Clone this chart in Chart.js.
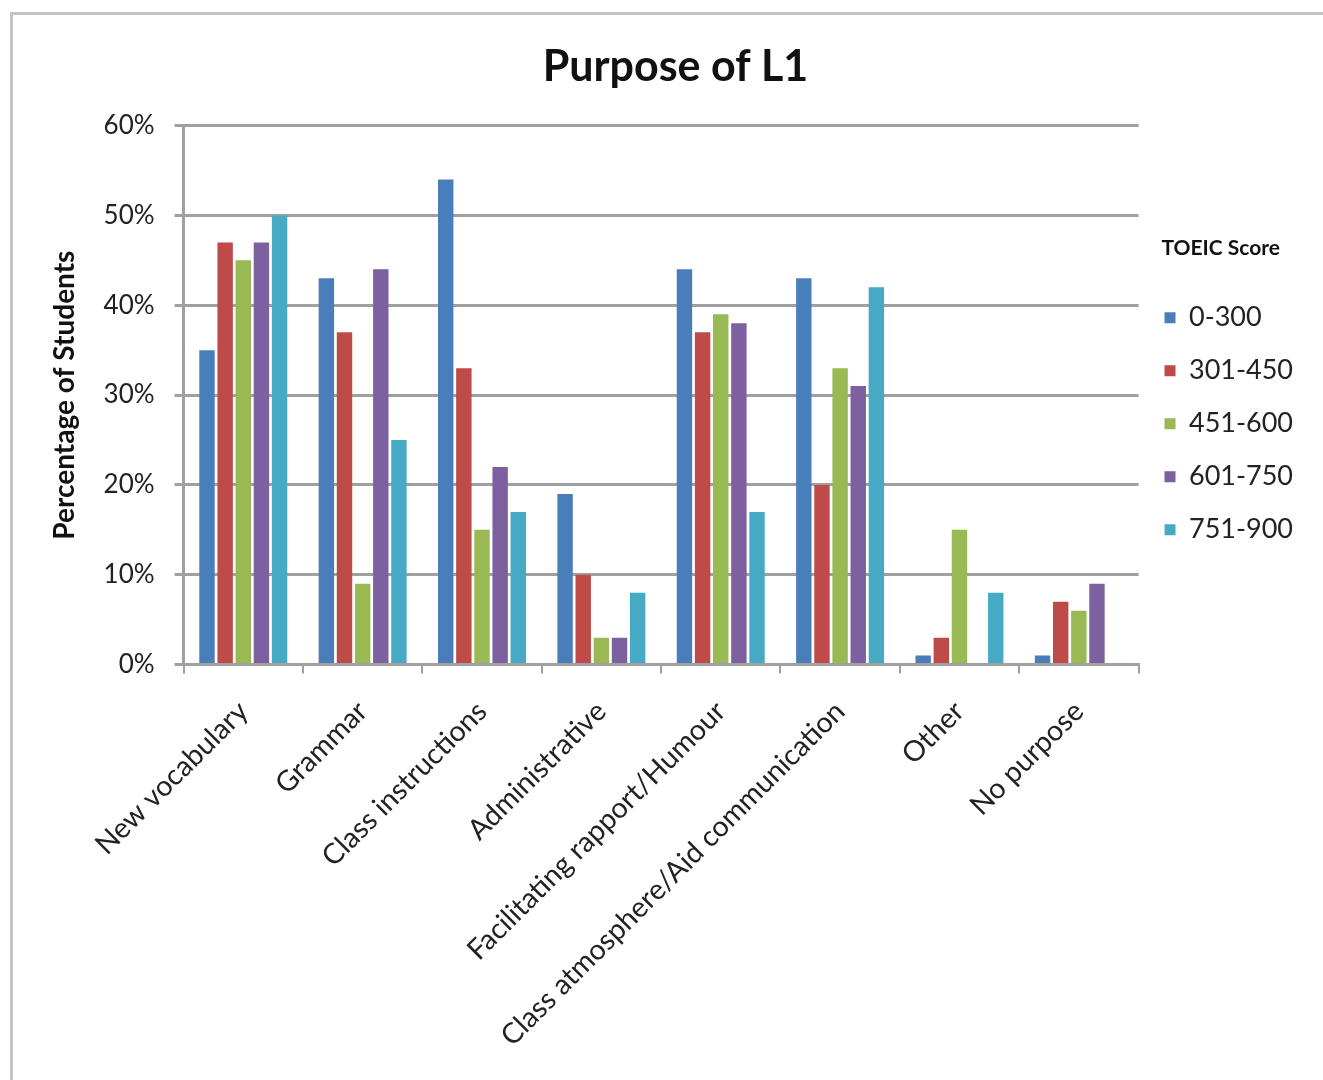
<!DOCTYPE html>
<html>
<head>
<meta charset="utf-8">
<script src="https://cdn.jsdelivr.net/npm/chart.js@4.4.1/dist/chart.umd.min.js"></script>
<style>
  body { margin: 0; background: #fff; }
  #wrap { position: relative; width: 1323px; height: 1080px; }
  #frame { position: absolute; left: 10px; top: 12px; right: -5px; bottom: -5px;
           border-left: 3px solid #c4c4c4; border-top: 3px solid #c4c4c4; pointer-events: none; }
</style>
</head>
<body>
<div id="wrap">
  <canvas id="chart" width="1323" height="1080"></canvas>
  <div id="frame"></div>
</div>
<script>
const purposes = ['New vocabulary', 'Grammar', 'Class instructions', 'Administrative',
  'Facilitating rapport/Humour', 'Class atmosphere/Aid communication', 'Other', 'No purpose'];
const scoreBands = ['0-300', '301-450', '451-600', '601-750', '751-900'];
const band0to300   = [35, 43, 54, 19, 44, 43, 1, 1];
const band301to450 = [47, 37, 33, 10, 37, 20, 3, 7];
const band451to600 = [45, 9, 15, 3, 39, 33, 15, 6];
const band601to750 = [47, 44, 22, 3, 38, 31, 0, 9];
const band751to900 = [50, 25, 17, 8, 17, 42, 8, 0];
const barColors = ['#4a7ebb', '#be4b48', '#98b954', '#7d60a0', '#46aac5'];

const series = [band0to300, band301to450, band451to600, band601to750, band751to900];
const fontFam = 'Lato, "Open Sans", sans-serif';

new Chart(document.getElementById('chart'), {
  type: 'bar',
  data: {
    labels: purposes,
    datasets: series.map((vals, i) => ({
      label: scoreBands[i],
      data: vals,
      backgroundColor: barColors[i],
      borderWidth: 0,
      barPercentage: 0.85,
      categoryPercentage: 0.76
    }))
  },
  options: {
    responsive: false,
    animation: false,
    layout: { padding: { left: 48, right: 20, bottom: 6 } },
    plugins: {
      title: {
        display: true,
        text: 'Purpose of L1',
        color: '#111',
        font: { family: fontFam, size: 43, weight: 'bold' },
        padding: { top: 41, bottom: 33 }
      },
      legend: {
        position: 'right',
        align: 'start',
        title: {
          display: true,
          text: 'TOEIC Score',
          color: '#111',
          font: { family: fontFam, size: 21, weight: 'bold' },
          padding: { top: 238, bottom: 15 }
        },
        labels: {
          color: '#222',
          font: { family: fontFam, size: 27 },
          boxWidth: 11,
          boxHeight: 11,
          padding: 26
        }
      },
      tooltip: { enabled: false }
    },
    scales: {
      x: {
        grid: { display: true, drawOnChartArea: false, offset: true, tickLength: 9, color: '#a0a0a0', lineWidth: 2 },
        border: { color: '#a0a0a0', width: 3 },
        ticks: {
          color: '#222',
          font: { family: fontFam, size: 28.5 },
          maxRotation: 45,
          minRotation: 45,
          padding: 21
        }
      },
      y: {
        min: 0,
        max: 60,
        grid: { color: '#a0a0a0', lineWidth: 3, tickLength: 9 },
        border: { color: '#a0a0a0', width: 3 },
        title: {
          display: true,
          text: 'Percentage of Students',
          color: '#111',
          font: { family: fontFam, size: 28, weight: 'bold' },
          padding: { top: 0, bottom: 2 }
        },
        ticks: {
          stepSize: 10,
          color: '#222',
          font: { family: fontFam, size: 26 },
          padding: 20,
          callback: v => v + '%'
        }
      }
    }
  }
});
</script>
</body>
</html>
